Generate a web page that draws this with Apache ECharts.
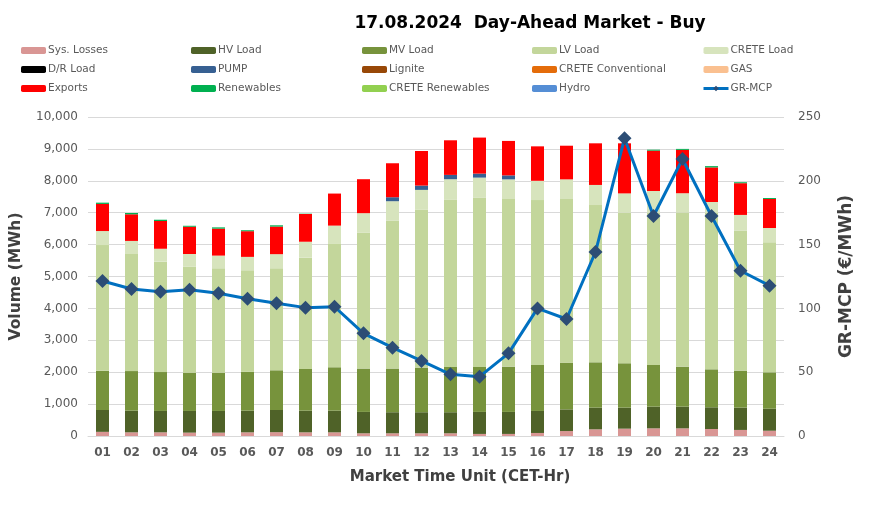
<!DOCTYPE html>
<html><head><meta charset="utf-8">
<script src="https://cdn.jsdelivr.net/npm/echarts@6/dist/echarts.min.js"></script>
<style>html,body{margin:0;padding:0;background:#fff}#c{width:888px;height:520px}</style>
</head><body><div id="c"></div>
<script>
const hours = ['01','02','03','04','05','06','07','08','09','10','11','12','13','14','15','16','17','18','19','20','21','22','23','24'];
const sysLosses = [130,115,115,105,105,115,120,115,115,85,85,85,85,65,65,95,155,210,230,240,240,220,190,165];
const hvLoad    = [685,680,670,680,680,680,695,680,680,670,660,660,660,690,690,690,680,680,660,680,680,680,700,690];
const mvLoad    = [1230,1240,1220,1200,1200,1220,1245,1305,1360,1360,1370,1400,1420,1410,1420,1440,1465,1420,1390,1305,1255,1190,1160,1140];
const lvLoad    = [3940,3670,3460,3320,3270,3180,3200,3490,3865,4265,4640,4945,5245,5310,5255,5170,5130,4930,4720,4775,4830,4900,4390,4075];
const creteLoad = [440,410,405,400,400,420,440,500,575,605,605,625,640,625,615,605,615,630,605,680,605,345,490,450];
const drLoad    = [0,0,0,0,0,0,0,0,0,0,0,0,0,0,0,0,0,0,0,0,0,0,0,0];
const pump      = [0,0,0,0,0,0,0,0,0,0,125,135,135,125,125,0,0,0,0,0,0,0,0,0];
const lignite   = [0,0,0,0,0,0,0,0,0,0,0,0,0,0,0,0,0,0,0,0,0,0,0,0];
const creteConv = [0,0,0,0,0,0,0,0,0,0,0,0,0,0,0,0,0,0,0,0,0,0,0,0];
const gas       = [0,0,0,0,0,0,0,0,0,0,0,0,0,0,0,0,0,0,0,0,0,0,0,0];
const exportsV  = [850,835,870,855,845,805,865,870,1005,1065,1065,1085,1085,1130,1080,1080,1055,1305,1570,1265,1360,1085,995,910];
const renewables= [40,40,40,30,40,30,40,10,0,0,0,0,0,0,0,0,0,0,0,30,30,40,30,30];
const creteRen  = [0,0,0,0,0,0,0,0,0,0,0,0,0,0,0,0,0,0,0,0,0,0,0,0];
const hydro     = [0,0,0,0,0,0,0,0,0,0,0,0,0,0,0,0,0,0,0,0,0,0,0,0];
const grMcp     = [121.5,115.2,113.1,114.7,111.8,107.6,104.0,100.6,101.3,80.5,69.2,58.8,48.3,46.5,64.8,100.0,91.7,144.2,233.3,172.4,217.1,172.4,129.5,117.8];

const FONT = 'DejaVu Sans';
const TXT = '#404040';
const stackDefs = [
  ['Sys. Losses', sysLosses, '#D99694'],
  ['HV Load', hvLoad, '#4F6228'],
  ['MV Load', mvLoad, '#77933C'],
  ['LV Load', lvLoad, '#C3D69B'],
  ['CRETE Load', creteLoad, '#D7E4BD'],
  ['D/R Load', drLoad, '#000000'],
  ['PUMP', pump, '#376092'],
  ['Lignite', lignite, '#984807'],
  ['CRETE Conventional', creteConv, '#E46C0A'],
  ['GAS', gas, '#FAC090'],
  ['Exports', exportsV, '#FF0000'],
  ['Renewables', renewables, '#00B050'],
  ['CRETE Renewables', creteRen, '#92D050'],
  ['Hydro', hydro, '#558ED5']
];
const series = stackDefs.map(d => ({
  name: d[0], type: 'bar', stack: 'vol', data: d[1], barWidth: 13,
  itemStyle: { color: d[2] }, emphasis: { disabled: true }
}));
series.push({
  name: 'GR-MCP', type: 'line', yAxisIndex: 1, data: grMcp,
  symbol: 'diamond', symbolSize: 14,
  lineStyle: { color: '#0070C0', width: 3 },
  itemStyle: { color: '#2C4D75' }, z: 10
});

const cols = [
  ['Sys. Losses','D/R Load','Exports'],
  ['HV Load','PUMP','Renewables'],
  ['MV Load','Lignite','CRETE Renewables'],
  ['LV Load','CRETE Conventional','Hydro'],
  ['CRETE Load','GAS','GR-MCP']
];
const colX = [21, 191, 362, 532, 702];
const legends = cols.map((c, i) => ({
  data: c.map(n => n === 'GR-MCP'
    ? { name: n, itemStyle: { color: '#2C4D75' }, lineStyle: { width: 3, color: '#0070C0' } }
    : { name: n }),
  orient: 'vertical', left: colX[i], top: 45, itemGap: 8, padding: 0,
  itemWidth: 25, itemHeight: 7, selectedMode: false,
  textStyle: { fontFamily: FONT, fontSize: 10.5, color: '#595959', padding: [0,0,0,-3] }
}));

const chart = echarts.init(document.getElementById('c'), null, { renderer: 'canvas' });
chart.setOption({
  animation: false,
  backgroundColor: '#fff',
  title: { text: '17.08.2024  Day-Ahead Market - Buy', left: 525, textAlign: 'center', top: 10,
    textStyle: { fontFamily: FONT, fontSize: 17, fontWeight: 'bold', color: '#000' } },
  legend: legends,
  grid: { left: 88, right: 104, top: 117, bottom: 84 },
  xAxis: {
    type: 'category', data: hours,
    name: 'Market Time Unit (CET-Hr)', nameLocation: 'middle', nameGap: 34,
    nameTextStyle: { fontFamily: FONT, fontSize: 15, fontWeight: 'bold', color: TXT, padding: [0,0,0,48] },
    axisLine: { lineStyle: { color: '#D9D9D9' } }, axisTick: { show: false },
    axisLabel: { fontFamily: FONT, fontSize: 12, color: '#595959', fontWeight: 'bold', margin: 11 }
  },
  yAxis: [
    { type: 'value', min: 0, max: 10000, interval: 1000,
      name: 'Volume (MWh)', nameLocation: 'middle', nameGap: 64, nameRotate: 90,
      nameTextStyle: { fontFamily: FONT, fontSize: 15.5, fontWeight: 'bold', color: TXT },
      axisLabel: { fontFamily: FONT, fontSize: 12, color: '#595959', margin: 10,
        formatter: v => v.toLocaleString('en-US') },
      splitLine: { lineStyle: { color: '#D9D9D9' } }, axisLine: { show: false }, axisTick: { show: false } },
    { type: 'value', min: 0, max: 250, interval: 50,
      name: 'GR-MCP (€/MWh)', nameLocation: 'middle', nameGap: 54, nameRotate: 90,
      nameTextStyle: { fontFamily: FONT, fontSize: 17, fontWeight: 'bold', color: TXT },
      axisLabel: { fontFamily: FONT, fontSize: 12, color: '#595959', margin: 14 },
      splitLine: { show: false }, axisLine: { show: false }, axisTick: { show: false } }
  ],
  series: series
});
</script></body></html>
